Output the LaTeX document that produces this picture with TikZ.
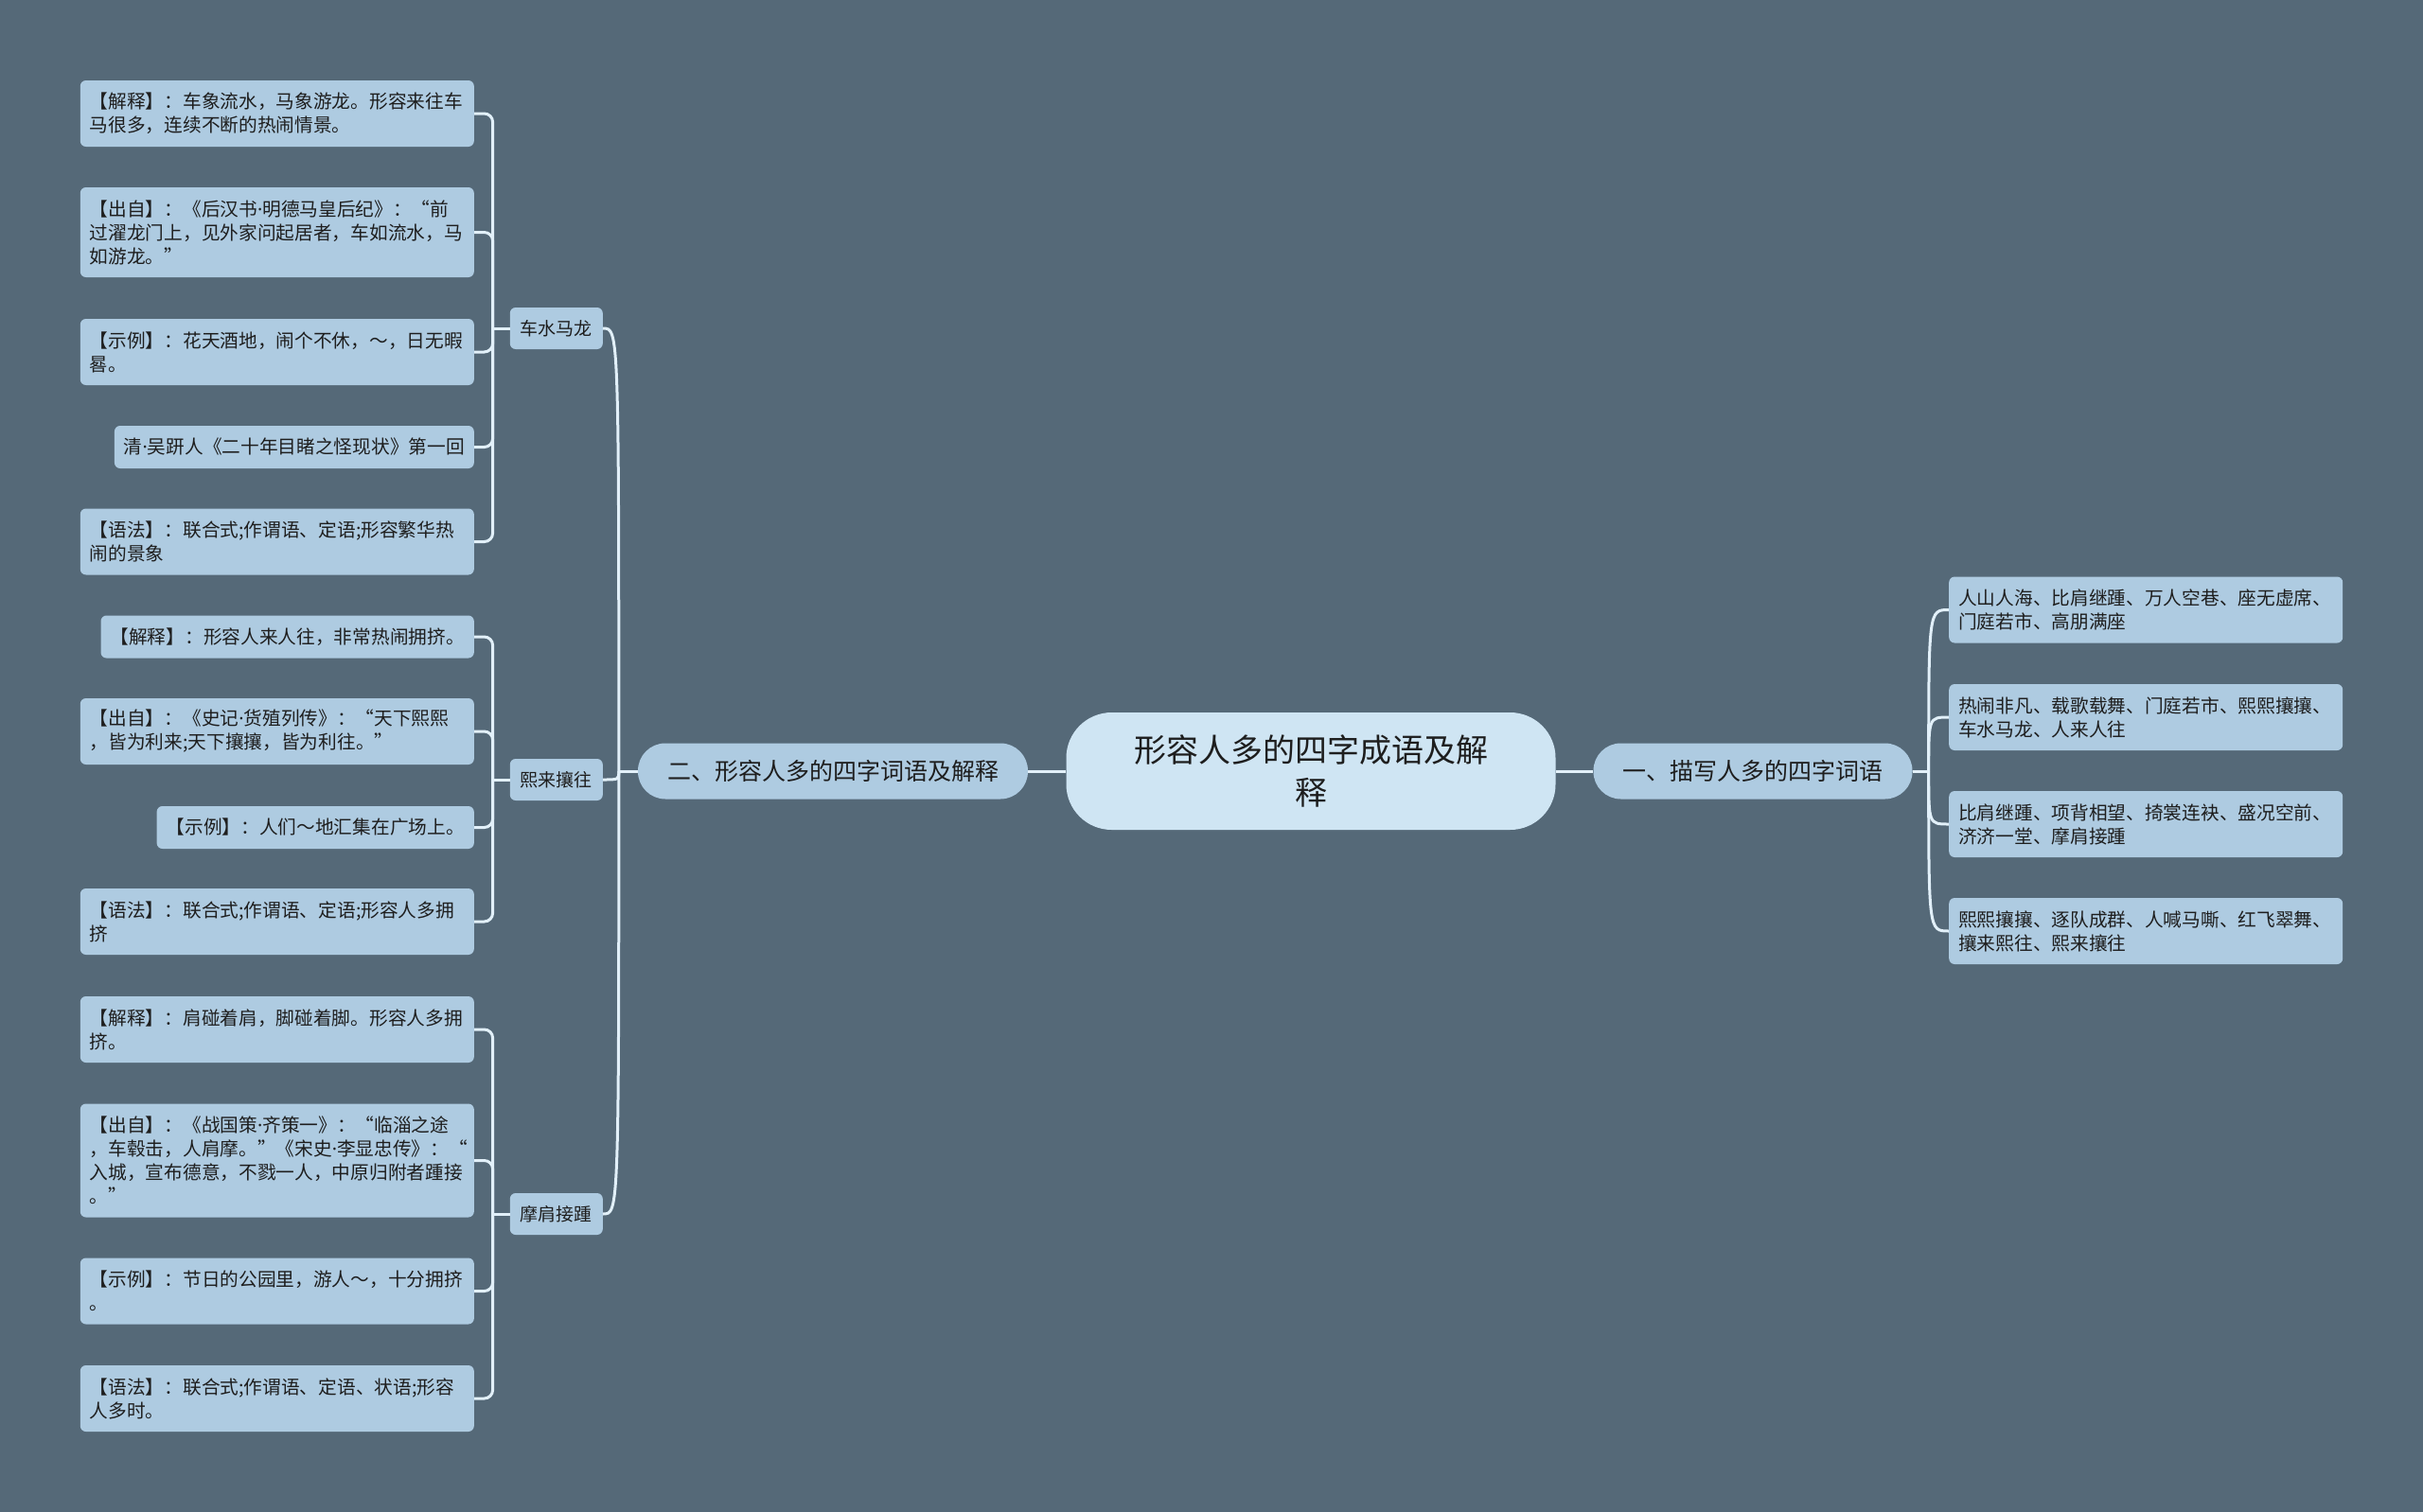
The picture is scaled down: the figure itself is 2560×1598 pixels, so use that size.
\documentclass[tikz,border=0pt]{standalone}
\usepackage{fontspec}
\setmainfont{Noto Sans CJK SC}
\newfontfamily\dotfont{Noto Sans}

\definecolor{bgslate}{RGB}{85,105,120}
\definecolor{leafblue}{RGB}{174,203,225}
\definecolor{titleblue}{RGB}{207,229,243}
\definecolor{linewhite}{RGB}{226,240,249}
\definecolor{inkgrey}{RGB}{30,30,30}

\newcommand{\mdot}{{\dotfont ·}}

\tikzset{
  leafbox/.style={fill=leafblue, rounded corners=6pt, text=inkgrey, inner xsep=10pt, inner ysep=0pt, align=left, font=\fontsize{19.7}{25}\selectfont},
  widebox/.style={text width=396pt},
  nlines/.style={minimum height={25*#1+20}},
  topicbox/.style={fill=leafblue, rounded corners=6pt, text=inkgrey, inner xsep=11pt, inner ysep=0pt, minimum height=44pt, font=\fontsize{19}{25}\selectfont},
  branchbox/.style={fill=leafblue, rounded corners=29pt, text=inkgrey, inner xsep=31pt, inner ysep=0pt, minimum height=59pt, font=\fontsize{25}{30}\selectfont},
  titlebox/.style={fill=titleblue, rounded corners=48pt, text=inkgrey, minimum width=517pt, minimum height=124pt, align=center, font=\fontsize{34}{45}\selectfont},
  linkline/.style={draw=linewhite, line width=3pt}
}

\begin{document}
\begin{tikzpicture}[x=1pt, y=-1pt]

% background
\fill[bgslate] (0,0) rectangle (2560,1598);
\useasboundingbox (0,0) rectangle (2560,1598);

% title and branches
\node[titlebox] (title) at (1385,815) {形容人多的四字成语及解\\释};
\node[branchbox] (lb) at (880,815) {二、形容人多的四字词语及解释};
\node[branchbox] (rb) at (1852,815) {一、描写人多的四字词语};

% idioms
\node[topicbox, anchor=east] (cs) at (637,347) {车水马龙};
\node[topicbox, anchor=east] (xl) at (637,824) {熙来攘往};
\node[topicbox, anchor=east] (mj) at (637,1283) {摩肩接踵};

% 车水马龙
\node[leafbox, widebox, nlines=2, anchor=east] (cs1) at (501,120) {【解释】：车象流水，马象游龙。形容来往车\\马很多，连续不断的热闹情景。};
\node[leafbox, widebox, nlines=3, anchor=east] (cs2) at (501,245.5) {【出自】：《后汉书\mdot 明德马皇后纪》：“前\\过濯龙门上，见外家问起居者，车如流水，马\\如游龙。”};
\node[leafbox, widebox, nlines=2, anchor=east] (cs3) at (501,372) {【示例】：花天酒地，闹个不休，～，日无暇\\晷。};
\node[leafbox, nlines=1, anchor=east] (cs4) at (501,472.5) {清\mdot 吴趼人《二十年目睹之怪现状》第一回};
\node[leafbox, widebox, nlines=2, anchor=east] (cs5) at (501,572.5) {【语法】：联合式;作谓语、定语;形容繁华热\\闹的景象};

% 熙来攘往
\node[leafbox, nlines=1, anchor=east] (xl1) at (501,673) {【解释】：形容人来人往，非常热闹拥挤。};
\node[leafbox, widebox, nlines=2, anchor=east] (xl2) at (501,773) {【出自】：《史记\mdot 货殖列传》：“天下熙熙\\，皆为利来;天下攘攘，皆为利往。”};
\node[leafbox, nlines=1, anchor=east] (xl3) at (501,874.5) {【示例】：人们～地汇集在广场上。};
\node[leafbox, widebox, nlines=2, anchor=east] (xl4) at (501,974) {【语法】：联合式;作谓语、定语;形容人多拥\\挤};

% 摩肩接踵
\node[leafbox, widebox, nlines=2, anchor=east] (mj1) at (501,1088) {【解释】：肩碰着肩，脚碰着脚。形容人多拥\\挤。};
\node[leafbox, widebox, nlines=4, anchor=east] (mj2) at (501,1226.5) {【出自】：《战国策\mdot 齐策一》：“临淄之途\\，车毂击，人肩摩。”《宋史\mdot 李显忠传》：“\\入城，宣布德意，不戮一人，中原归附者踵接\\。”};
\node[leafbox, widebox, nlines=2, anchor=east] (mj3) at (501,1364.5) {【示例】：节日的公园里，游人～，十分拥挤\\。};
\node[leafbox, widebox, nlines=2, anchor=east] (mj4) at (501,1478) {【语法】：联合式;作谓语、定语、状语;形容\\人多时。};

% word lists
\node[leafbox, widebox, nlines=2, anchor=west] (r1) at (2059,644.5) {人山人海、比肩继踵、万人空巷、座无虚席、\\门庭若市、高朋满座};
\node[leafbox, widebox, nlines=2, anchor=west] (r2) at (2059,758) {热闹非凡、载歌载舞、门庭若市、熙熙攘攘、\\车水马龙、人来人往};
\node[leafbox, widebox, nlines=2, anchor=west] (r3) at (2059,871) {比肩继踵、项背相望、掎裳连袂、盛况空前、\\济济一堂、摩肩接踵};
\node[leafbox, widebox, nlines=2, anchor=west] (r4) at (2059,984) {熙熙攘攘、逐队成群、人喊马嘶、红飞翠舞、\\攘来熙往、熙来攘往};

% junctions
\coordinate (lj) at ([xshift=-20pt]lb.west);
\coordinate (rj) at ([xshift=17pt]rb.east);
\coordinate (csj) at ([xshift=-18pt]cs.west);
\coordinate (xlj) at ([xshift=-18pt]xl.west);
\coordinate (mjj) at ([xshift=-18pt]mj.west);

% title to branches
\draw[linkline] (title.west) -- (lb.east);
\draw[linkline] (title.east) -- (rb.west);

% left branch to idioms
\draw[linkline] (lb.west) -- (lj);
\draw[linkline] (lj) .. controls (lj |- cs.east) .. (cs.east);
\draw[linkline] (lj) .. controls (lj |- xl.east) .. (xl.east);
\draw[linkline] (lj) .. controls (lj |- mj.east) .. (mj.east);

% right branch to word lists
\draw[linkline] (rb.east) -- (rj);
\draw[linkline] (rj) .. controls (rj |- r1.west) .. (r1.west);
\draw[linkline] (rj) .. controls (rj |- r2.west) .. (r2.west);
\draw[linkline] (rj) .. controls (rj |- r3.west) .. (r3.west);
\draw[linkline] (rj) .. controls (rj |- r4.west) .. (r4.west);

% idioms to notes
\draw[linkline] (cs.west) -- (csj);
\draw[linkline, rounded corners=9pt] (cs1.east) -| (csj);
\draw[linkline, rounded corners=9pt] (cs2.east) -| (csj);
\draw[linkline, rounded corners=9pt] (cs3.east) -| (csj);
\draw[linkline, rounded corners=9pt] (cs4.east) -| (csj);
\draw[linkline, rounded corners=9pt] (cs5.east) -| (csj);

\draw[linkline] (xl.west) -- (xlj);
\draw[linkline, rounded corners=9pt] (xl1.east) -| (xlj);
\draw[linkline, rounded corners=9pt] (xl2.east) -| (xlj);
\draw[linkline, rounded corners=9pt] (xl3.east) -| (xlj);
\draw[linkline, rounded corners=9pt] (xl4.east) -| (xlj);

\draw[linkline] (mj.west) -- (mjj);
\draw[linkline, rounded corners=9pt] (mj1.east) -| (mjj);
\draw[linkline, rounded corners=9pt] (mj2.east) -| (mjj);
\draw[linkline, rounded corners=9pt] (mj3.east) -| (mjj);
\draw[linkline, rounded corners=9pt] (mj4.east) -| (mjj);

\end{tikzpicture}
\end{document}
